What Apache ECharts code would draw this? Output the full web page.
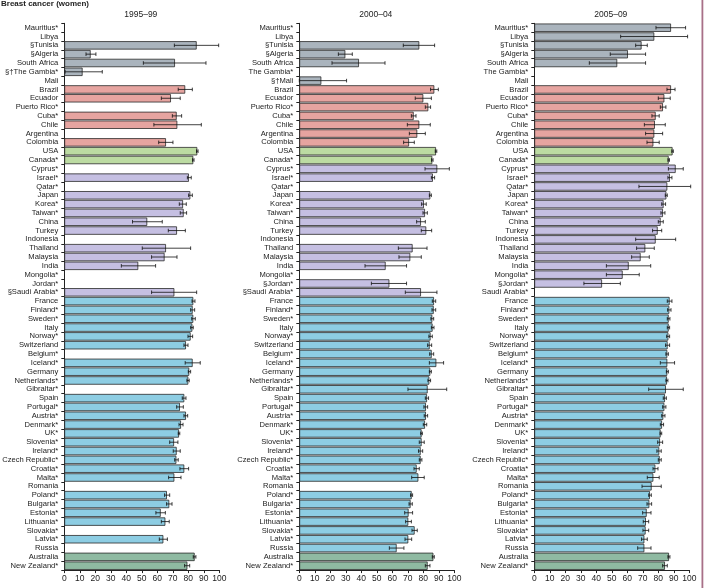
<!DOCTYPE html>
<html><head><meta charset="utf-8">
<script src="https://cdn.jsdelivr.net/npm/echarts@6/dist/echarts.min.js"></script>
<style>html,body{margin:0;padding:0;background:#fff;}#c{width:705px;height:588px;}</style>
</head><body><div id="c"></div>
<script>
// Category labels per panel (top to bottom)
const labels1 = ["Mauritius*","Libya","§Tunisia","§Algeria","South Africa","§†The Gambia*","Mali","Brazil","Ecuador","Puerto Rico*","Cuba*","Chile","Argentina","Colombia","USA","Canada*","Cyprus*","Israel*","Qatar*","Japan","Korea*","Taiwan*","China","Turkey","Indonesia","Thailand","Malaysia","India","Mongolia*","Jordan*","§Saudi Arabia*","France","Finland*","Sweden*","Italy","Norway*","Switzerland","Belgium*","Iceland*","Germany","Netherlands*","Gibraltar*","Spain","Portugal*","Austria*","Denmark*","UK*","Slovenia*","Ireland*","Czech Republic*","Croatia*","Malta*","Romania","Poland*","Bulgaria*","Estonia*","Lithuania*","Slovakia*","Latvia*","Russia","Australia","New Zealand*"];
const labels2 = ["Mauritius*","Libya","§Tunisia","§Algeria","South Africa","The Gambia*","§†Mali","Brazil","Ecuador","Puerto Rico*","Cuba*","Chile","Argentina","Colombia","USA","Canada*","Cyprus*","Israel*","Qatar*","Japan","Korea*","Taiwan*","China","Turkey","Indonesia","Thailand","Malaysia","India","Mongolia*","§Jordan*","§Saudi Arabia*","France","Finland*","Sweden*","Italy","Norway*","Switzerland","Belgium*","Iceland*","Germany","Netherlands*","Gibraltar*","Spain","Portugal*","Austria*","Denmark*","UK*","Slovenia*","Ireland*","Czech Republic*","Croatia*","Malta*","Romania","Poland*","Bulgaria*","Estonia*","Lithuania*","Slovakia*","Latvia*","Russia","Australia","New Zealand*"];
const labels3 = ["Mauritius*","Libya","§Tunisia","§Algeria","South Africa","The Gambia*","Mali","Brazil","Ecuador","Puerto Rico*","Cuba*","Chile","Argentina","Colombia","USA","Canada*","Cyprus*","Israel*","Qatar*","Japan","Korea*","Taiwan*","China","Turkey","Indonesia","Thailand","Malaysia","India","Mongolia*","§Jordan*","Saudi Arabia*","France","Finland*","Sweden*","Italy","Norway*","Switzerland","Belgium*","Iceland*","Germany","Netherlands*","Gibraltar*","Spain","Portugal*","Austria*","Denmark*","UK*","Slovenia*","Ireland*","Czech Republic*","Croatia*","Malta*","Romania","Poland*","Bulgaria*","Estonia*","Lithuania*","Slovakia*","Latvia*","Russia","Australia","New Zealand*"];
// Region of each row: 0 Africa, 1 Central/South America, 2 North America, 3 Asia, 4 Europe, 5 Oceania
const regions = [0,0,0,0,0,0,0, 1,1,1,1,1,1,1, 2,2, 3,3,3,3,3,3,3,3,3,3,3,3,3,3,3, 4,4,4,4,4,4,4,4,4,4,4,4,4,4,4,4,4,4,4,4,4,4,4,4,4,4,4,4,4, 5,5];
const regionColors = ["#aab4bd","#e6a4a0","#bcdba2","#c5bfe2","#8dcde3","#8fbaa2"];
const panelTitles = ["1995–99","2000–04","2005–09"];
const xTicks = [0,10,20,30,40,50,60,70,80,90,100];

// 1995-99: survival, lower CI, upper CI
const val1 = [null,null,85.4,17,71.4,11.8,null,78,68.8,null,72.5,72.9,null,65.6,85.8,83.2,null,80.4,null,81.3,76.6,77,53.5,72.7,null,65.6,64.7,47.7,null,null,71,83.2,82.8,83.2,82.6,81.5,78.5,null,82.8,80.6,80,null,77.4,74.6,78.5,75.3,74,70.8,72.5,72.3,77.4,71,null,66.2,67.7,62.2,65.2,null,63.9,null,84.1,79.4];
const lo1  = [null,null,71,14,51,0.5,null,73.5,62.6,null,69.7,57.8,null,60.9,85.3,82.7,null,79.4,null,80.2,74.2,74.8,44,67.1,null,50.3,56.3,36.8,null,null,56.3,82.4,81.5,82.2,81.5,79.8,77.2,null,78,80,79.1,null,76.1,72.5,77.2,74,73.5,68,70.3,71.2,74.6,67.3,null,64.7,66,59.1,62.6,null,61.3,null,83.2,77.6];
const hi1  = [null,null,99.6,20.4,91.4,24.5,null,82.6,74.8,null,75.7,88.4,null,70.1,86.3,83.7,null,81.9,null,82.6,78.7,78.9,63.2,78.1,null,81.5,72.7,58.9,null,null,85.4,84.3,84.1,84.5,83.2,82.8,79.8,null,87.7,81.5,80.6,null,78.5,76.8,79.6,76.6,74.5,73.3,74.8,73.5,80.2,75.3,null,68,69.5,65.2,67.7,null,66.5,null,84.9,80.9];

// 2000-04
const val2 = [null,null,77.4,29.7,38.5,null,14.2,87.1,80,83.2,73.8,77.4,76.1,70.8,88.2,85.8,89,86.2,null,84.5,80.4,81.1,78.5,81.9,null,73.1,71.6,55.7,null,58.1,78.5,86.9,86.7,85.8,86,84.7,84.1,85.4,88.4,84.5,83.9,82.8,82.4,81.7,81.7,81.1,78.9,78.9,78.3,78.3,75.7,76.8,null,72.5,71.8,70.5,70.3,74.4,70.3,62.8,86.5,82.8];
const lo2  = [null,null,67.1,25.2,21.1,null,0,84.7,74.8,81.3,72.3,69.7,71,67.3,87.7,85.3,81.1,85.2,null,83.9,78.9,79.8,75.7,78.7,null,63.9,64.3,42.4,null,46.5,68.4,85.8,85.6,84.9,85.2,83.6,82.8,84.1,83.9,83.9,83,70.1,81.3,80.4,80.6,80,78.3,77.4,76.9,77.4,74,72.5,null,71.8,70.8,68,68.6,72.7,68.2,58.1,85.8,81.3];
const hi2  = [null,null,87.3,34.2,55.3,null,30.5,89.7,85.2,84.7,75.3,84.5,81.3,74.2,88.7,86.3,96.8,87.3,null,85.2,81.9,82.6,81.3,85.4,null,82.4,78.7,69.2,null,69.2,88.8,88,88,86.7,86.9,85.8,85.4,86.7,93.1,85.2,84.7,95.1,83.4,82.8,82.8,82.2,79.4,80.6,79.6,79.1,77.4,80.6,null,73.1,72.9,73.1,72.3,76.1,72.5,67.5,87.1,84.3];

// 2005-09
const val3 = [88.2,77.4,69.2,60.4,53.5,null,null,88.2,83.9,83,78.3,77.8,77.4,76.8,89.2,86.7,91.2,87.5,85.8,85.2,83.4,83,81.5,79.6,78.3,71.6,68.6,60.9,57,43.7,null,87.3,87.1,86.7,86.7,86.5,86,85.8,85.8,85.8,85.6,84.9,84.3,83.9,83.2,82.4,81.5,81.1,80.6,80.9,78.1,76.8,75.7,74.6,74.2,72.5,72,71.8,71,71,86.9,84.3];
const lo3  = [78.5,55.7,65.4,49,35.5,null,null,85.6,80,81.3,75.9,71,71.8,72.7,88.7,86.2,86.5,86.2,67.5,84.5,82.2,81.7,80,76.3,65.4,66,62.8,46.5,46.5,32,null,85.8,86,85.8,85.8,85.4,84.7,84.9,81.3,85.2,84.9,73.8,83.2,82.8,82.2,81.3,81.1,79.6,79.1,80,76.6,72.9,69.5,73.8,72.7,69.9,70.3,70.1,69.2,66.7,86.2,82.8];
const hi3  = [97.6,98.9,72.9,71.8,71.8,null,null,90.8,87.7,84.9,80.6,84.5,82.8,80.6,89.7,87.2,96.1,88.8,100.9,85.8,84.7,84.3,83.2,82.2,91.2,77.4,74.2,75.1,67.7,55.5,null,88.8,88.2,87.5,87.3,87.3,87.3,86.5,90.5,86.5,86.2,96.1,85.2,84.9,84.3,83.4,82.2,82.8,81.9,81.9,79.8,80.6,81.9,75.5,75.7,75.3,73.8,73.8,72.9,75.3,87.5,85.8];

const panels = [
  {labels: labels1, val: val1, lo: lo1, hi: hi1},
  {labels: labels2, val: val2, lo: lo2, hi: hi2},
  {labels: labels3, val: val3, lo: lo3, hi: hi3}
];

const FONT = "'Liberation Sans',Arial,sans-serif";
const lefts = [64.3, 299.3, 534.3];
const gridTop = 23.3, gridH = 546.8, gridW = 155;

const grids = [], xAxes = [], yAxes = [], series = [], graphics = [];
panels.forEach((p, i) => {
  grids.push({left: lefts[i], top: gridTop, width: gridW, height: gridH, containLabel: false, outerBoundsMode: 'none'});
  xAxes.push({
    type: 'value', gridIndex: i, min: 0, max: 100, interval: 10,
    axisLine: {show: true, lineStyle: {color: '#222', width: 1}},
    axisTick: {show: true, length: 3, lineStyle: {color: '#222'}},
    axisLabel: {fontSize: 8.5, color: '#222', margin: 4, fontFamily: FONT,
      formatter: v => xTicks.indexOf(v) >= 0 ? String(v) : ''},
    splitLine: {show: false}
  });
  yAxes.push({
    type: 'category', gridIndex: i, data: p.labels, inverse: true,
    axisLine: {show: true, lineStyle: {color: '#222', width: 1}},
    axisTick: {show: true, length: 3, lineStyle: {color: '#222'}},
    axisLabel: {fontSize: 7.6, color: '#222', margin: 6, fontFamily: FONT, interval: 0},
    splitLine: {show: false}
  });
  series.push({
    type: 'bar', xAxisIndex: i, yAxisIndex: i,
    barCategoryGap: '5%',
    data: p.val.map((v, k) => v == null ? '-' : {value: v, itemStyle: {color: regionColors[regions[k]]}}),
    itemStyle: {borderColor: '#2a2a2a', borderWidth: 0.8},
    silent: true, animation: false
  });
  const eb = [];
  p.val.forEach((v, k) => { if (v != null && p.lo[k] != null) eb.push([p.lo[k], p.hi[k], k]); });
  series.push({
    type: 'custom', xAxisIndex: i, yAxisIndex: i, data: eb,
    encode: {x: [0, 1], y: 2},
    renderItem: (params, api) => {
      const a = api.coord([api.value(0), api.value(2)]);
      const b = api.coord([api.value(1), api.value(2)]);
      const h = 1.8;
      return {type: 'group', children: [
        {type: 'line', shape: {x1: a[0], y1: a[1], x2: b[0], y2: b[1]}, style: {stroke: '#111', lineWidth: 0.8}},
        {type: 'line', shape: {x1: a[0], y1: a[1]-h, x2: a[0], y2: a[1]+h}, style: {stroke: '#111', lineWidth: 0.8}},
        {type: 'line', shape: {x1: b[0], y1: b[1]-h, x2: b[0], y2: b[1]+h}, style: {stroke: '#111', lineWidth: 0.8}}
      ]};
    },
    silent: true, animation: false, z: 5
  });
  graphics.push({type: 'text', x: lefts[i] + gridW/2 - 1, y: 15,
    style: {text: panelTitles[i], textAlign: 'center', textVerticalAlign: 'middle',
      fontSize: 8.5, fill: '#222', fontFamily: FONT}});
});
graphics.push({type: 'text', x: 1, y: 4, style: {text: 'Breast cancer (women)', textAlign: 'left', textVerticalAlign: 'middle',
  fontSize: 8, fontWeight: 'bold', fill: '#222', fontFamily: FONT}});
graphics.push({type: 'rect', shape: {x: 701.5, y: 0, width: 1.8, height: 588}, style: {fill: '#a87088'}});

const chart = echarts.init(document.getElementById('c'), null, {renderer: 'canvas'});
chart.setOption({
  backgroundColor: '#fff',
  animation: false,
  grid: grids, xAxis: xAxes, yAxis: yAxes, series: series,
  graphic: graphics
});
</script></body></html>
